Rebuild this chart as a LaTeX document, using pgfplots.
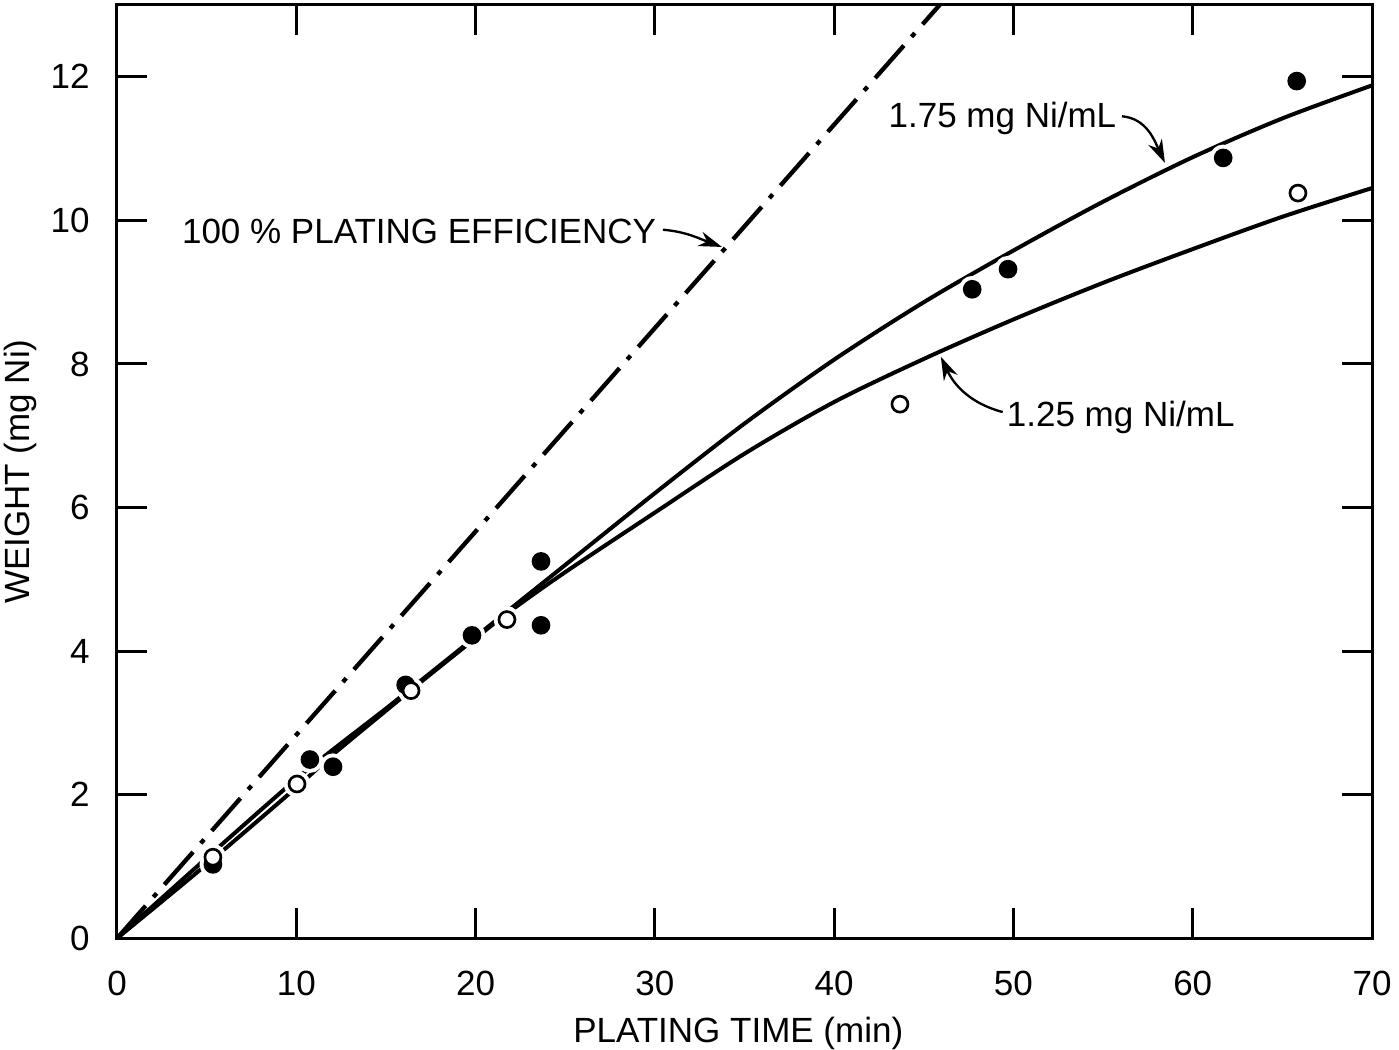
\documentclass[border=0pt]{standalone}
\usepackage{fontspec}
\setmainfont{Liberation Sans}
\usepackage{pgfplots}
\pgfplotsset{compat=1.18}
\usetikzlibrary{arrows.meta}

\begin{document}
\fontsize{10.5}{12}\selectfont
\begin{tikzpicture}
\begin{axis}[
    name=ax,
    scale only axis,
    width=376.5pt, height=280pt,
    xmin=0, xmax=70, ymin=0, ymax=13,
    xtick={0,10,...,70}, ytick={0,2,...,12},
    tick align=inside, xtick pos=both, ytick pos=both,
    major tick length=9pt,
    every tick/.style={black, line width=0.9pt},
    axis line style={line width=0.9pt},
    /pgf/number format/assume math mode=true,
    ticklabel style={font=\fontsize{10.5}{12}\selectfont},
    xticklabel style={yshift=-6pt},
    yticklabel style={xshift=-4.5pt},
    xlabel={PLATING TIME (min)},
    ylabel={WEIGHT (mg Ni)},
    xlabel style={at={(axis description cs:0.495,0)}, anchor=north, yshift=-20pt},
    ylabel style={at={(axis description cs:-0.077,0.5)}, anchor=center},
    clip=true,
]
% 100 % plating efficiency
\addplot[black, line width=1.3pt, dash pattern=on 13pt off 3.5pt on 1.5pt off 3.5pt]
    coordinates {(0,0) (48,13.6)};
% 1.75 mg Ni/mL curve
\addplot[black, line width=1.2pt, smooth] coordinates {
    (0,0) (5,1.12) (10,2.22) (12,2.62) (15,3.2) (17,3.6) (20,4.2) (22,4.6)
    (25,5.2) (30,6.2) (35,7.17) (40,8.06) (45,8.86) (50,9.58) (55,10.26)
    (60,10.88) (65,11.42) (70,11.88)};
% 1.25 mg Ni/mL curve
\addplot[black, line width=1.2pt, smooth] coordinates {
    (0,0) (5,1.03) (10,2.1) (12,2.55) (15,3.17) (17,3.58) (20,4.18) (22,4.57)
    (25,5.1) (30,5.93) (35,6.75) (40,7.47) (45,8.07) (50,8.62) (55,9.13)
    (60,9.6) (65,10.05) (70,10.45)};
% white halos round the points
\addplot[only marks, mark=*, mark size=3.8pt, draw=white, fill=white] coordinates {
    (5.35,1.03) (10.76,2.49) (12.05,2.39) (16.1,3.53) (19.8,4.22) (23.65,5.25)
    (23.65,4.36) (47.7,9.04) (49.7,9.32) (61.7,10.87) (65.8,11.94)
    (5.35,1.13) (10.04,2.15) (16.4,3.45) (21.75,4.44) (43.67,7.44) (65.87,10.38)};
% 1.75 mg Ni/mL data
\addplot[only marks, mark=*, mark size=2.6pt, black] coordinates {
    (5.35,1.03) (10.76,2.49) (12.05,2.39) (16.1,3.53) (19.8,4.22) (23.65,5.25)
    (23.65,4.36) (47.7,9.04) (49.7,9.32) (61.7,10.87) (65.8,11.94)};
% 1.25 mg Ni/mL data
\addplot[only marks, mark=*, mark size=2.4pt, draw=black, fill=white, line width=0.8pt] coordinates {
    (5.35,1.13) (10.04,2.15) (16.4,3.45) (21.75,4.44) (43.67,7.44) (65.87,10.38)};

\node[anchor=east, inner sep=0pt] at (axis cs:30.1,9.85) {100 \% PLATING EFFICIENCY};
\draw[black, line width=0.7pt, -{Stealth[length=7pt,width=4.5pt]}]
    (axis cs:30.45,9.87) to[out=-5, in=160] (axis cs:33.74,9.63);

\node[anchor=west, inner sep=0pt] at (axis cs:43.0,11.42) {1.75 mg Ni/mL};
\draw[black, line width=0.7pt, -{Stealth[length=7pt,width=4.5pt]}]
    (axis cs:56.05,11.45) to[out=-5, in=115] (axis cs:58.45,10.8);

\node[anchor=west, inner sep=0pt] at (axis cs:49.6,7.26) {1.25 mg Ni/mL};
\draw[black, line width=0.7pt, -{Stealth[length=7pt,width=4.5pt]}]
    (axis cs:49.4,7.33) to[out=165, in=-65] (axis cs:45.95,8.1);
\end{axis}
\pgfresetboundingbox
\path[use as bounding box] ([xshift=-35.1pt,yshift=-33.3pt]ax.south west)
    rectangle ([xshift=8.1pt,yshift=1.5pt]ax.north east);
\end{tikzpicture}
\end{document}
